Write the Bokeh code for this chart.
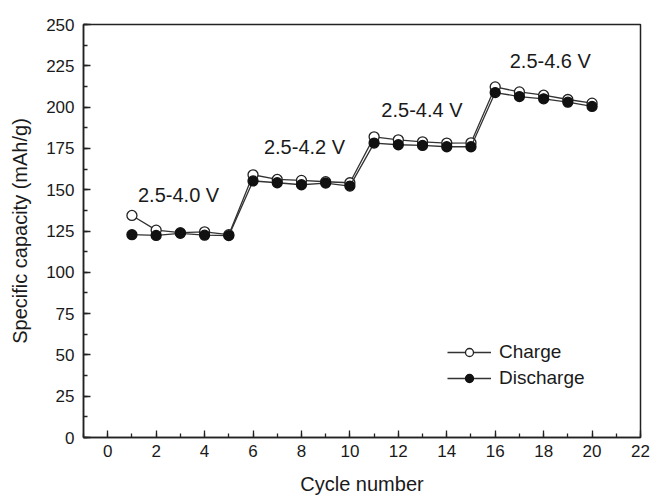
from bokeh.plotting import figure
from bokeh.models import Range1d, SingleIntervalTicker, Legend, LegendItem, ColumnDataSource
from bokeh.core.properties import value
from bokeh.embed import file_html
from bokeh.resources import INLINE

cycles = list(range(1, 21))
charge = [134.4, 125.5, 124.0, 124.5, 122.8,
          159.0, 156.2, 155.6, 154.8, 154.2,
          182.0, 180.2, 179.0, 178.2, 178.4,
          212.2, 209.2, 207.2, 204.6, 202.4]
discharge = [122.8, 122.3, 123.6, 122.5, 122.2,
             155.3, 154.2, 153.0, 154.0, 152.2,
             178.2, 177.2, 176.8, 176.0, 176.0,
             208.8, 206.4, 205.0, 203.0, 200.4]

ann_text = ["2.5-4.0 V", "2.5-4.2 V", "2.5-4.4 V", "2.5-4.6 V"]
ann_x = [1.25, 6.45, 11.3, 16.6]
ann_y = [146.5, 176.0, 198.5, 227.8]

FONT = "Liberation Sans"
TXT = "#1a1a1a"

p = figure(width=650, height=492, output_backend="svg", toolbar_location=None,
           x_range=Range1d(-1, 22), y_range=Range1d(0, 250),
           frame_width=557, frame_height=413,
           min_border_left=83, min_border_right=10, min_border_top=24, min_border_bottom=55)
p.background_fill_color = "white"
p.border_fill_color = "white"
p.grid.visible = False
p.outline_line_color = "#222222"
p.outline_line_width = 1.5

p.xaxis.ticker = SingleIntervalTicker(interval=2, num_minor_ticks=2)
p.yaxis.ticker = SingleIntervalTicker(interval=25, num_minor_ticks=2)

for ax in (p.xaxis[0], p.yaxis[0]):
    ax.axis_line_color = "#222222"
    ax.axis_line_width = 1.5
    ax.major_tick_in = 7
    ax.major_tick_out = 0
    ax.minor_tick_in = 4
    ax.minor_tick_out = 0
    ax.major_tick_line_color = "#222222"
    ax.minor_tick_line_color = "#222222"
    ax.major_tick_line_width = 1.3
    ax.minor_tick_line_width = 1.3
    ax.major_label_text_font = FONT
    ax.major_label_text_font_size = "17px"
    ax.major_label_text_color = TXT
    ax.axis_label_text_font = FONT
    ax.axis_label_text_font_size = "20px"
    ax.axis_label_text_font_style = "normal"
    ax.axis_label_text_color = TXT

p.xaxis.axis_label = "Cycle number"
p.yaxis.axis_label = "Specific capacity (mAh/g)"
p.xaxis.major_label_standoff = 7
p.xaxis.axis_label_standoff = 13
p.yaxis.major_label_standoff = 9
p.yaxis.axis_label_standoff = 12

src = ColumnDataSource(dict(x=cycles, c=charge, d=discharge))

lc = p.line("x", "c", source=src, line_color="#333333", line_width=1.3)
sc = p.scatter("x", "c", source=src, marker="circle", size=10,
               fill_color="white", line_color="#222222", line_width=1.3)
ld = p.line("x", "d", source=src, line_color="#333333", line_width=1.3)
sd = p.scatter("x", "d", source=src, marker="circle", size=10,
               fill_color="#111111", line_color="#111111", line_width=1.3)

p.text(x=ann_x, y=ann_y, text=ann_text, text_font=value(FONT),
       text_font_size="20px", text_color=TXT, text_baseline="middle", text_align="left")

legend = Legend(items=[LegendItem(label="Charge", renderers=[lc, sc]),
                       LegendItem(label="Discharge", renderers=[ld, sd])],
                location=(364, 48))
legend.glyph_width = 44
legend.glyph_height = 20
legend.label_height = 20
legend.spacing = 4
legend.padding = 0
legend.margin = 0
legend.label_standoff = 8
legend.border_line_color = None
legend.background_fill_alpha = 0
legend.label_text_font = FONT
legend.label_text_font_size = "19px"
legend.label_text_color = TXT
p.add_layout(legend, "center")

open("out.html", "w").write(file_html(p, INLINE))
